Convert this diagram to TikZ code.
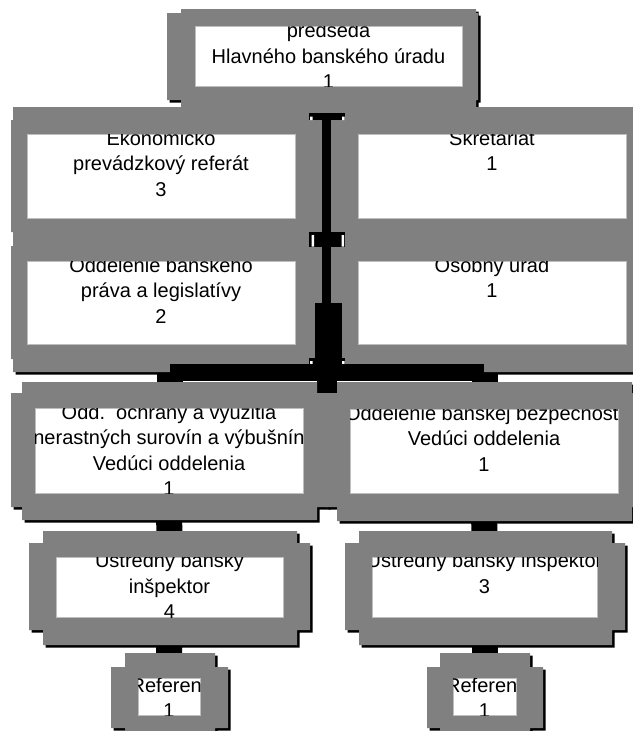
\documentclass[tikz,border=0pt]{standalone}
\usepackage{fontspec}
\setmainfont{Liberation Sans}
\usetikzlibrary{calc}
\definecolor{boxgrey}{RGB}{128,128,128}
\definecolor{edgegrey}{RGB}{190,190,190}
\pgfdeclarelayer{bg}\pgfdeclarelayer{low}\pgfdeclarelayer{mid}
\pgfsetlayers{bg,low,mid,main}
\tikzset{
  wbox/.style={fill=white, draw=edgegrey, line width=0.6pt, inner sep=0pt, outer sep=0pt, anchor=north west},
  txt/.style={anchor=base, inner sep=0pt, font=\fontsize{20}{24}\selectfont},
  conn/.style={draw=black, line cap=butt},
  capfill/.style={fill=black},
  speck/.style={fill=white},
}
\newcommand\plusbox[8]{%
  \begin{scope}[shift={(2.5,2.5)}]
    \fill[black] (#1,#2) rectangle (#3,#4) (#5,#6) rectangle (#7,#8);
  \end{scope}
  \fill[boxgrey] (#1,#2) rectangle (#3,#4) (#5,#6) rectangle (#7,#8);}
\newcommand\wbox[7][11]{%
  \pgfmathsetmacro\wboxw{#5-#3}\pgfmathsetmacro\wboxh{#6-#4}%
  \node[wbox, minimum width=\wboxw pt, minimum height=\wboxh pt] (#2) at (#3,#4) {};
  \begin{scope}
    \clip (#3,#4) rectangle (#5,#6);
    \foreach \lintext [count=\i] in {#7} {
      \node[txt] (#2-\i) at ({(#3+#5)/2},{#4+#1+(\i-1)*25.5}) {\lintext};
    }
  \end{scope}}
\begin{document}
\begin{tikzpicture}[x=1pt,y=-1pt]
\useasboundingbox (0,0) rectangle (632,731);
% ---------- rows 1-3 ----------
\begin{pgfonlayer}{low}
  \plusbox{181}{9}{476}{107}{167}{13}{478}{100}
  \wbox[11.5]{top}{195}{26}{462}{86}{predseda,Hlavného banského úradu,1}
  \plusbox{13}{107}{330}{245}{11}{120}{332}{232}
  \wbox{eko}{27}{134}{295}{218}{Ekonomicko,prevádzkový referát,3}
  \plusbox{13}{234}{330}{372}{11}{246}{332}{359}
  \wbox{odd}{27}{261}{295}{344}{Oddelenie banskeho,práva a legislatívy,2}
  \plusbox{323}{107}{640}{245}{321}{120}{650}{232}
  \wbox{skr}{358}{134}{626}{218}{Skretariat,1}
  \plusbox{323}{234}{640}{372}{321}{246}{650}{359}
  \wbox{oso}{358}{261}{626}{344}{Osobny urad,1}
\end{pgfonlayer}
% ---------- main connector ----------
\begin{pgfonlayer}{mid}
  \coordinate (spA) at (326.5,113);
  \coordinate (spB) at (326.5,303);
  \coordinate (spC) at (328.5,303);
  \coordinate (spD) at (328.5,365);
  \draw[conn, line width=9pt] (spA) -- (spB);
  \draw[conn, line width=27pt] (spC) -- (spD);
  % end caps
  \fill[capfill] (309,113) rectangle (345,120);
  \fill[speck] (310,116.5) rectangle (312.5,120) (342,116.5) rectangle (344.5,120);
  \fill[capfill] (309,232) rectangle (345,247);
  \fill[speck] (311.5,235) rectangle (314,246.5) (341.5,235) rectangle (344,246.5);
  \fill[capfill] (309,358) rectangle (345,366);
  \fill[speck] (310,361) rectangle (312.5,364) (342,361) rectangle (344.5,364);
  % horizontal bar and drops
  \coordinate (barL) at (170,364);
  \coordinate (barR) at (484,377);
  \fill[capfill] (barL) rectangle (barR);
  \fill[capfill] (157,373) rectangle (498,381);
  \coordinate (stubT) at (327,377);
  \coordinate (stubB) at (327,396);
  \draw[conn, line width=20pt] (stubT) -- (stubB);
  \coordinate (dropL) at (170,373);
  \coordinate (dropR) at (484.5,373);
  \draw[conn, line width=26pt] (dropL) -- (170,395);
  \draw[conn, line width=26pt] (dropR) -- (484.5,395);
\end{pgfonlayer}
% ---------- rows 4-6 ----------
\plusbox{22}{382}{317}{520}{11}{393}{328}{507}
\wbox{och}{35}{408}{303}{493}{Odd.\ \ ochrany a vyuzitia,nerastných surovín a výbušnín,Vedúci oddelenia,1}
\plusbox{337}{382}{632}{521}{326}{393}{643}{507}
\wbox{bez}{350}{409}{618}{493}{Oddelenie banskej bezpecnosti,Vedúci oddelenia,1}
\plusbox{43}{531}{297}{645}{29}{543}{310}{630}
\wbox[10.5]{ust1}{56}{557}{283}{617}{Ustredny bansky,inšpektor,4}
\plusbox{359}{531}{612}{645}{345}{543}{625}{630}
\wbox[10.5]{ust2}{372}{557}{597}{617}{Ustredny bansky inspektor,3}
\plusbox{125}{653}{215}{745}{111}{667}{228}{728}
\wbox[14]{ref1}{138}{678}{200}{715}{Referent,1}
\plusbox{440}{653}{530}{745}{427}{667}{543}{728}
\wbox[14]{ref2}{453}{678}{516}{715}{Referent,1}
% ---------- lower connectors ----------
\begin{pgfonlayer}{bg}
  \draw[conn, line width=26pt] (och.south) -- (ust1.north);
  \draw[conn, line width=26pt] (bez.south) -- (ust2.north);
  \draw[conn, line width=26pt] (ust1.south) -- (ref1.north);
  \draw[conn, line width=26pt] (ust2.south) -- (ref2.north);
\end{pgfonlayer}
\end{tikzpicture}
\end{document}
